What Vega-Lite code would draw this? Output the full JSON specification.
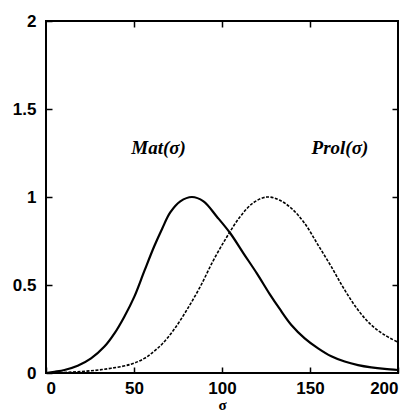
{
  "$schema": "https://vega.github.io/schema/vega-lite/v6.json",
  "width": 352,
  "height": 352,
  "autosize": "none",
  "padding": {"left": 46, "top": 21, "right": 15, "bottom": 39},
  "background": "white",
  "config": {
    "view": {"stroke": "black", "strokeWidth": 2},
    "axis": {
      "labelFont": "Liberation Sans",
      "labelFontWeight": "bold",
      "labelFontSize": 17,
      "labelColor": "black",
      "domain": false,
      "grid": false,
      "tickColor": "black",
      "tickWidth": 1.5,
      "tickSize": 6,
      "offset": -6,
      "titleFont": "Liberation Serif",
      "titleFontWeight": "bold",
      "titleFontSize": 15,
      "titleColor": "black"
    }
  },
  "datasets": {
    "curves": [
      {"sigma": 0, "value": 0.0, "series": "Mat"},
      {"sigma": 4.8, "value": 0.007, "series": "Mat"},
      {"sigma": 10.5, "value": 0.017, "series": "Mat"},
      {"sigma": 18, "value": 0.041, "series": "Mat"},
      {"sigma": 25.6, "value": 0.083, "series": "Mat"},
      {"sigma": 33.2, "value": 0.15, "series": "Mat"},
      {"sigma": 38.9, "value": 0.225, "series": "Mat"},
      {"sigma": 44.5, "value": 0.32, "series": "Mat"},
      {"sigma": 50.2, "value": 0.434, "series": "Mat"},
      {"sigma": 55.9, "value": 0.58, "series": "Mat"},
      {"sigma": 61.5, "value": 0.72, "series": "Mat"},
      {"sigma": 66, "value": 0.82, "series": "Mat"},
      {"sigma": 70.6, "value": 0.912, "series": "Mat"},
      {"sigma": 76.3, "value": 0.975, "series": "Mat"},
      {"sigma": 82.9, "value": 1.0, "series": "Mat"},
      {"sigma": 89.5, "value": 0.975, "series": "Mat"},
      {"sigma": 97.1, "value": 0.888, "series": "Mat"},
      {"sigma": 104.7, "value": 0.794, "series": "Mat"},
      {"sigma": 112.2, "value": 0.68, "series": "Mat"},
      {"sigma": 119.8, "value": 0.566, "series": "Mat"},
      {"sigma": 127.3, "value": 0.445, "series": "Mat"},
      {"sigma": 132.5, "value": 0.368, "series": "Mat"},
      {"sigma": 139.4, "value": 0.273, "series": "Mat"},
      {"sigma": 147, "value": 0.197, "series": "Mat"},
      {"sigma": 154.6, "value": 0.14, "series": "Mat"},
      {"sigma": 162.1, "value": 0.095, "series": "Mat"},
      {"sigma": 169.7, "value": 0.065, "series": "Mat"},
      {"sigma": 177.3, "value": 0.045, "series": "Mat"},
      {"sigma": 184.8, "value": 0.032, "series": "Mat"},
      {"sigma": 192.4, "value": 0.023, "series": "Mat"},
      {"sigma": 200, "value": 0.017, "series": "Mat"},
      {"sigma": 0, "value": 0.0, "series": "Prol"},
      {"sigma": 9, "value": 0.002, "series": "Prol"},
      {"sigma": 18, "value": 0.007, "series": "Prol"},
      {"sigma": 28, "value": 0.015, "series": "Prol"},
      {"sigma": 37, "value": 0.027, "series": "Prol"},
      {"sigma": 48.3, "value": 0.05, "series": "Prol"},
      {"sigma": 55.9, "value": 0.083, "series": "Prol"},
      {"sigma": 61, "value": 0.12, "series": "Prol"},
      {"sigma": 66, "value": 0.165, "series": "Prol"},
      {"sigma": 72.5, "value": 0.244, "series": "Prol"},
      {"sigma": 80, "value": 0.358, "series": "Prol"},
      {"sigma": 87.6, "value": 0.49, "series": "Prol"},
      {"sigma": 95.2, "value": 0.642, "series": "Prol"},
      {"sigma": 102.8, "value": 0.774, "series": "Prol"},
      {"sigma": 110.3, "value": 0.888, "series": "Prol"},
      {"sigma": 117.9, "value": 0.968, "series": "Prol"},
      {"sigma": 125.5, "value": 1.0, "series": "Prol"},
      {"sigma": 132.5, "value": 0.983, "series": "Prol"},
      {"sigma": 139.4, "value": 0.936, "series": "Prol"},
      {"sigma": 147, "value": 0.85, "series": "Prol"},
      {"sigma": 154.6, "value": 0.727, "series": "Prol"},
      {"sigma": 162.1, "value": 0.604, "series": "Prol"},
      {"sigma": 169.7, "value": 0.472, "series": "Prol"},
      {"sigma": 177.3, "value": 0.358, "series": "Prol"},
      {"sigma": 184.8, "value": 0.273, "series": "Prol"},
      {"sigma": 192.4, "value": 0.216, "series": "Prol"},
      {"sigma": 200, "value": 0.175, "series": "Prol"}
    ],
    "labels": [
      {"sigma": 64, "value": 1.28, "text": "Mat(σ)"},
      {"sigma": 167, "value": 1.28, "text": "Prol(σ)"}
    ]
  },
  "resolve": {"axis": {"x": "independent", "y": "independent"}},
  "layer": [
    {
      "data": {"name": "curves"},
      "mark": {"type": "line", "color": "black", "interpolate": "catmull-rom", "strokeWidth": 2.2},
      "transform": [{"filter": "datum.series === 'Mat'"}],
      "encoding": {
        "x": {"field": "sigma", "type": "quantitative", "scale": {"domain": [0, 200], "nice": false}, "axis": {"values": [0, 50, 100, 150, 200], "title": "σ", "titlePadding": 1, "labelPadding": 7}},
        "y": {"field": "value", "type": "quantitative", "scale": {"domain": [0, 2], "nice": false}, "axis": {"values": [0, 0.5, 1, 1.5, 2], "format": "~g", "title": null, "labelPadding": 10}}
      }
    },
    {
      "data": {"name": "curves"},
      "mark": {"type": "line", "color": "black", "interpolate": "catmull-rom", "strokeWidth": 1.6, "strokeDash": [3, 1.5]},
      "transform": [{"filter": "datum.series === 'Prol'"}],
      "encoding": {
        "x": {"field": "sigma", "type": "quantitative", "axis": {"orient": "top", "values": [50, 100, 150], "labels": false, "title": null}},
        "y": {"field": "value", "type": "quantitative", "axis": {"orient": "right", "values": [0.5, 1, 1.5], "labels": false, "title": null}}
      }
    },
    {
      "data": {"name": "labels"},
      "mark": {"type": "text", "font": "Liberation Serif", "fontStyle": "italic", "fontWeight": "bold", "fontSize": 19, "color": "black"},
      "encoding": {
        "x": {"field": "sigma", "type": "quantitative", "axis": null},
        "y": {"field": "value", "type": "quantitative", "axis": null},
        "text": {"field": "text"}
      }
    }
  ]
}
